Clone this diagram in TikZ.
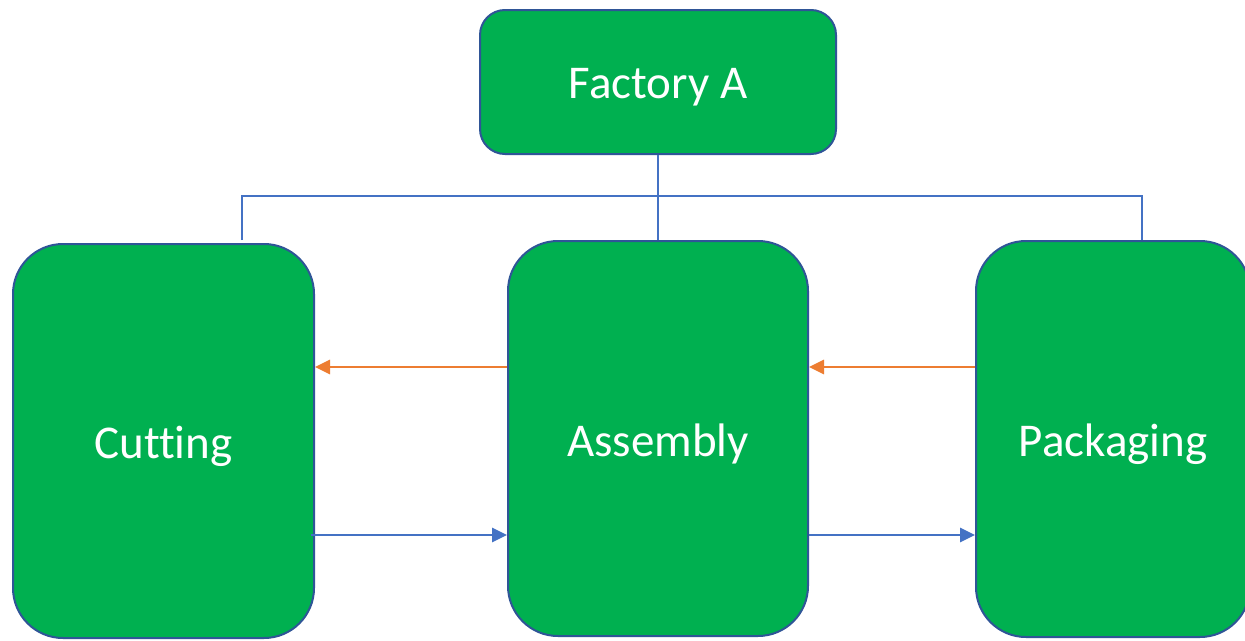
\documentclass[tikz,border=0pt]{standalone}
\usepackage{fontspec}
\setmainfont{Carlito}[Ligatures=NoCommon]
\usetikzlibrary{arrows.meta}
\definecolor{boxgreen}{HTML}{00B050}
\definecolor{boxedge}{HTML}{2F5597}
\definecolor{linkblue}{HTML}{4472C4}
\definecolor{linkorange}{HTML}{ED7D31}
\newcommand{\boxtext}[1]{\raisebox{-5pt}[\height][\depth]{#1}}
\tikzset{
  stagebox/.style={draw=boxedge, line width=2pt, fill=boxgreen, rounded corners=50pt,
    text=white, font=\fontsize{47}{56}\selectfont, inner sep=0pt, anchor=center},
  topbox/.style={stagebox, rounded corners=25pt},
  tree/.style={draw=linkblue, line width=1.5pt},
  fwd/.style={draw=linkblue, line width=2.8pt, -{Triangle[length=15pt,width=14pt]}},
  back/.style={draw=linkorange, line width=2.8pt, -{Triangle[length=15pt,width=14pt]}}
}
\begin{document}
\begin{tikzpicture}[x=1pt,y=-1pt]
\useasboundingbox (0,0) rectangle (1245,640);
\clip (0,0) rectangle (1245,640);
\fill[white] (0,0) rectangle (1245,640);

\node[topbox, minimum width=356pt, minimum height=144pt] (fac) at (658,82) {\boxtext{Factory A}};
\node[stagebox, minimum width=301pt, minimum height=394pt] (cut) at (163.5,441) {\boxtext{Cutting}};
\node[stagebox, minimum width=300pt, minimum height=395pt] (asm) at (658,438.5) {\boxtext{Assembly}};
\node[stagebox, minimum width=274pt, minimum height=396pt] (pack) at (1113,439) {\boxtext{Packaging}};

% tree connectors
\coordinate (bus) at (0,196);
\coordinate (cutdrop) at (242,240);
\coordinate (packdrop) at (1142,240);
\draw[tree] (fac.south) -- (asm.north);
\draw[tree] (cutdrop) |- (bus -| packdrop) -- (packdrop);

% process arrows
\coordinate (upper) at (0,367);
\coordinate (lower) at (0,535);
\draw[back] (upper -| asm.west) -- (upper -| cut.east);
\draw[back] (upper -| pack.west) -- (upper -| asm.east);
\draw[fwd] ([xshift=-4pt]lower -| cut.east) -- (lower -| asm.west);
\draw[fwd] (lower -| asm.east) -- (lower -| pack.west);
\end{tikzpicture}
\end{document}
